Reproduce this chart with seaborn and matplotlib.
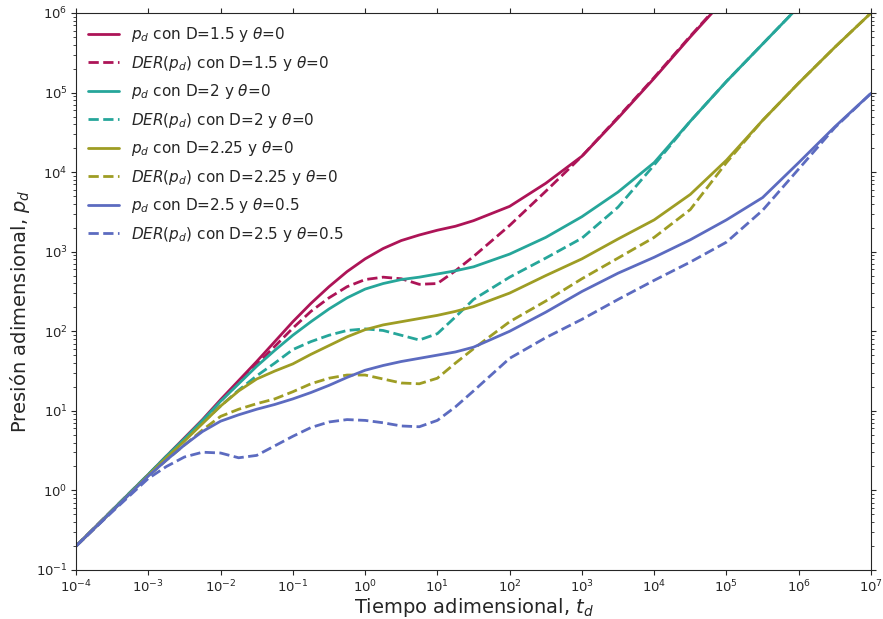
import numpy as np
import pandas as pd
import matplotlib
matplotlib.use("Agg")
import matplotlib.pyplot as plt
import seaborn as sns

# log10 of dimensionless time
log_t = [-4, -3.5, -3, -2.75, -2.5, -2.25, -2, -1.75, -1.5, -1.25, -1, -0.75, -0.5, -0.25,
         0, 0.25, 0.5, 0.75, 1, 1.25, 1.5, 2, 2.5, 3, 3.5, 4, 4.5, 5, 5.5, 6, 6.5, 7]

# log10 of pressure / derivative values
pd_15 = [-0.70, -0.25, 0.20, 0.43, 0.66, 0.89, 1.14, 1.38, 1.62, 1.87, 2.12, 2.35, 2.56, 2.75,
         2.91, 3.04, 3.14, 3.21, 3.27, 3.32, 3.39, 3.57, 3.86, 4.20, 4.68, 5.18, 5.70, 6.20, 6.70, 7.2, 7.7, 8.2]
der_15 = [-0.70, -0.25, 0.20, 0.43, 0.65, 0.88, 1.12, 1.35, 1.58, 1.81, 2.04, 2.25, 2.42, 2.56,
          2.65, 2.68, 2.66, 2.59, 2.60, 2.76, 2.94, 3.33, 3.76, 4.20, 4.69, 5.19, 5.71, 6.21, 6.70, 7.2, 7.7, 8.2]
pd_20 = [-0.70, -0.25, 0.20, 0.43, 0.65, 0.88, 1.12, 1.34, 1.56, 1.76, 1.95, 2.12, 2.28, 2.42,
         2.53, 2.60, 2.65, 2.68, 2.72, 2.76, 2.81, 2.97, 3.18, 3.44, 3.75, 4.12, 4.64, 5.14, 5.61, 6.08, 6.55, 7.0]
der_20 = [-0.70, -0.25, 0.20, 0.42, 0.64, 0.85, 1.06, 1.26, 1.44, 1.60, 1.77, 1.87, 1.95, 2.01,
          2.03, 2.01, 1.95, 1.89, 1.97, 2.18, 2.40, 2.68, 2.92, 3.17, 3.56, 4.09, 4.64, 5.14, 5.61, 6.08, 6.55, 7.0]
pd_225 = [-0.70, -0.26, 0.19, 0.41, 0.62, 0.84, 1.06, 1.25, 1.40, 1.50, 1.59, 1.71, 1.82, 1.93,
          2.02, 2.08, 2.12, 2.16, 2.20, 2.25, 2.31, 2.48, 2.70, 2.91, 3.16, 3.40, 3.72, 4.15, 4.65, 5.12, 5.57, 6.0]
der_225 = [-0.70, -0.26, 0.18, 0.38, 0.57, 0.76, 0.93, 1.02, 1.09, 1.15, 1.24, 1.34, 1.41, 1.45,
           1.45, 1.40, 1.35, 1.34, 1.41, 1.60, 1.78, 2.12, 2.38, 2.66, 2.92, 3.18, 3.53, 4.12, 4.65, 5.12, 5.57, 6.0]
pd_25 = [-0.70, -0.26, 0.18, 0.38, 0.57, 0.74, 0.87, 0.95, 1.02, 1.08, 1.15, 1.23, 1.32, 1.42,
         1.51, 1.57, 1.62, 1.66, 1.70, 1.74, 1.80, 2.00, 2.24, 2.50, 2.73, 2.93, 3.15, 3.40, 3.68, 4.12, 4.57, 4.99]
der_25 = [-0.70, -0.27, 0.15, 0.30, 0.42, 0.48, 0.47, 0.41, 0.44, 0.56, 0.68, 0.79, 0.86, 0.89,
          0.88, 0.85, 0.81, 0.80, 0.88, 1.05, 1.25, 1.66, 1.92, 2.15, 2.40, 2.64, 2.87, 3.12, 3.52, 4.04, 4.56, 4.99]

labels = [r"$p_d$ con D=1.5 y $\theta$=0", r"$DER(p_d)$ con D=1.5 y $\theta$=0",
          r"$p_d$ con D=2 y $\theta$=0", r"$DER(p_d)$ con D=2 y $\theta$=0",
          r"$p_d$ con D=2.25 y $\theta$=0", r"$DER(p_d)$ con D=2.25 y $\theta$=0",
          r"$p_d$ con D=2.5 y $\theta$=0.5", r"$DER(p_d)$ con D=2.5 y $\theta$=0.5"]
series = [pd_15, der_15, pd_20, der_20, pd_225, der_225, pd_25, der_25]
colors = ["#AD1457", "#AD1457", "#26A69A", "#26A69A", "#9E9D24", "#9E9D24", "#5C6BC0", "#5C6BC0"]
styles = ["-", "--", "-", "--", "-", "--", "-", "--"]

sns.set_style("ticks")
fig = plt.figure(figsize=(8.83, 6.19), dpi=100)
ax = fig.add_axes([0.0861, 0.0792, 0.9003, 0.8998])

t = 10 ** np.array(log_t)
for lab, s, c, ls in zip(labels, series, colors, styles):
    df = pd.DataFrame({"t": t, "p": 10 ** np.array(s)})
    sns.lineplot(data=df, x="t", y="p", ax=ax, color=c, linestyle=ls, linewidth=2,
                 label=lab, sort=True)

ax.set_xscale("log")
ax.set_yscale("log")
ax.set_xlim(1e-4, 1e7)
ax.set_ylim(1e-1, 1e6)
ax.set_xticks([10.0 ** k for k in range(-4, 8)])
ax.set_yticks([10.0 ** k for k in range(-1, 7)])
ax.tick_params(which="both", top=True, right=True, direction="out")
ax.tick_params(axis="both", which="major", labelsize=9.5, pad=2.5)
ax.set_xlabel(r"Tiempo adimensional, $t_d$", fontsize=14, labelpad=1)
ax.set_ylabel(r"Presión adimensional, $p_d$", fontsize=14)
ax.yaxis.set_label_coords(-0.056, 0.465)
ax.legend(loc="upper left", fontsize=11, frameon=False, labelspacing=0.62,
          borderaxespad=0.4)

fig.savefig("out.png", dpi=100)
